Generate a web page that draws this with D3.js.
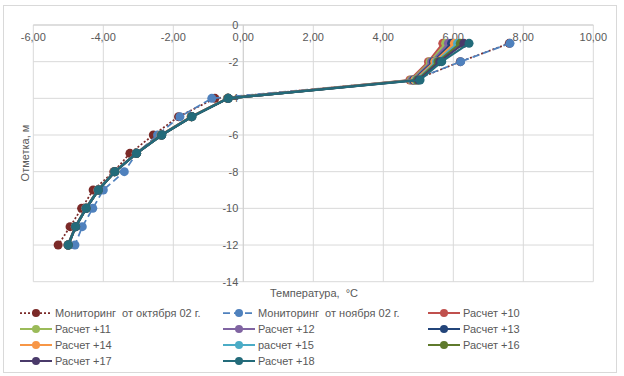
<!DOCTYPE html>
<html><head><meta charset="utf-8">
<script src="https://cdn.jsdelivr.net/npm/d3@7"></script>
<style>body{margin:0;background:#fff}svg{display:block}text{font-family:"Liberation Sans",Arial,sans-serif}</style>
</head><body><svg id="c" width="624" height="376"></svg>
<script>
const depths = [-1,-2,-3,-4,-5,-6,-7,-8,-9,-10,-11,-12];
const xTicks = [-6,-4,-2,0,2,4,6,8,10];
const yTicks = [0,-2,-4,-6,-8,-10,-12,-14];
const seriesNames = ["Мониторинг  от октября 02 г.","Мониторинг  от ноября 02 г.","Расчет +10","Расчет +11","Расчет +12","Расчет +13","Расчет +14","расчет +15","Расчет +16","Расчет +17","Расчет +18"];
const octValues = [7.60,6.20,4.90,-0.81,-1.85,-2.57,-3.24,-3.70,-4.29,-4.62,-4.95,-5.29];
const novValues = [7.62,6.21,4.86,-0.90,-1.81,-2.45,-3.05,-3.40,-4.00,-4.30,-4.60,-4.81];
const calc10 = [5.70,5.29,4.76,-0.45,-1.49,-2.35,-3.06,-3.68,-4.15,-4.50,-4.80,-5.01];
const calc11 = [5.78,5.34,4.80,-0.45,-1.49,-2.35,-3.06,-3.68,-4.15,-4.50,-4.80,-5.01];
const calc12 = [5.86,5.38,4.83,-0.44,-1.48,-2.34,-3.06,-3.68,-4.15,-4.50,-4.80,-5.01];
const calc13 = [5.95,5.43,4.87,-0.44,-1.48,-2.34,-3.05,-3.67,-4.14,-4.49,-4.79,-5.00];
const calc14 = [6.03,5.47,4.90,-0.44,-1.48,-2.34,-3.05,-3.67,-4.14,-4.49,-4.79,-5.00];
const calc15 = [6.12,5.52,4.94,-0.43,-1.47,-2.33,-3.05,-3.67,-4.14,-4.49,-4.79,-5.00];
const calc16 = [6.20,5.56,4.97,-0.43,-1.47,-2.33,-3.05,-3.67,-4.14,-4.49,-4.79,-5.00];
const calc17 = [6.30,5.61,5.01,-0.43,-1.47,-2.33,-3.05,-3.67,-4.14,-4.49,-4.79,-5.00];
const calc18 = [6.45,5.67,5.05,-0.43,-1.47,-2.33,-3.05,-3.67,-4.14,-4.49,-4.79,-5.00];
const colors = ["#7b2a28","#4f81bd","#c0504d","#9bbb59","#8064a2","#23457a","#f79646","#4bacc6","#5f7a2c","#4a3a6a","#236b7a"];

const allValues = [octValues,novValues,calc10,calc11,calc12,calc13,calc14,calc15,calc16,calc17,calc18];
const series = seriesNames.map((n,i)=>({name:n,color:colors[i],values:allValues[i],kind:i===0?"dot":i===1?"dash":"solid"}));

const svg = d3.select("#c");
svg.append("rect").attr("x",3.5).attr("y",5.5).attr("width",613).attr("height",367).attr("fill","#fff").attr("stroke","#d9d9d9");

const x = d3.scaleLinear().domain([-6,10]).range([33.3,593.3]);
const y = d3.scaleLinear().domain([0,-14]).range([25,281.7]);

svg.append("g").selectAll("line").data(xTicks).join("line")
  .attr("x1",d=>x(d)).attr("x2",d=>x(d)).attr("y1",y(0)).attr("y2",y(-14))
  .attr("stroke","#d9d9d9").attr("stroke-width",1);
svg.append("g").selectAll("line").data(yTicks).join("line")
  .attr("x1",x(-6)).attr("x2",x(10)).attr("y1",d=>y(d)).attr("y2",d=>y(d))
  .attr("stroke","#d9d9d9").attr("stroke-width",1);

svg.append("line").attr("x1",x(-6)).attr("x2",x(10)).attr("y1",y(0)).attr("y2",y(0)).attr("stroke","#d0d0d0");
svg.append("line").attr("x1",x(0)).attr("x2",x(0)).attr("y1",y(0)).attr("y2",y(-14)).attr("stroke","#d0d0d0");

const fmt = d=>d3.format(".2f")(d).replace(".",",").replace("−","-");
svg.append("g").selectAll("text").data(xTicks).join("text")
  .attr("x",d=>x(d)).attr("y",y(0)+16).attr("text-anchor","middle")
  .attr("font-size",11).attr("fill","#595959").text(fmt);
svg.append("g").selectAll("text").data(yTicks).join("text")
  .attr("x",x(0)-5).attr("y",d=>y(d)+4).attr("text-anchor","end")
  .attr("font-size",11).attr("fill","#595959").text(d=>String(d));

svg.append("text").attr("x",314).attr("y",297).attr("text-anchor","middle").attr("font-size",11).attr("fill","#595959").attr("xml:space","preserve").text("Температура,  °С");
svg.append("text").attr("transform","translate(29,153) rotate(-90)").attr("text-anchor","middle").attr("font-size",11).attr("fill","#595959").text("Отметка, м");

const line = d3.line().x(d=>x(d[0])).y(d=>y(d[1]));
const dashFor = k=>k==="dot"?"2,2":k==="dash"?"7,4":null;
series.forEach(s=>{
  const pts = s.values.map((v,i)=>[v,depths[i]]);
  const g = svg.append("g");
  g.append("path").datum(pts).attr("d",line).attr("fill","none").attr("stroke",s.color)
    .attr("stroke-width",s.kind==="solid"?2.25:1.75).attr("stroke-dasharray",dashFor(s.kind));
  g.selectAll("circle").data(pts).join("circle").attr("cx",d=>x(d[0])).attr("cy",d=>y(d[1]))
    .attr("r",4.5).attr("fill",s.color);
});

const colX = [20,223,428];
const rowY = [313,329,345,361];
series.forEach((s,i)=>{
  const cx = colX[i%3], cy = rowY[Math.floor(i/3)];
  const g = svg.append("g");
  g.append("line").attr("x1",cx).attr("x2",cx+32).attr("y1",cy).attr("y2",cy).attr("stroke",s.color)
    .attr("stroke-width",s.kind==="solid"?2:1.75).attr("stroke-dasharray",dashFor(s.kind));
  g.append("circle").attr("cx",cx+16).attr("cy",cy).attr("r",4).attr("fill",s.color);
  g.append("text").attr("x",cx+35).attr("y",cy+4).attr("font-size",11).attr("fill","#595959").attr("xml:space","preserve").text(s.name);
});
</script></body></html>
